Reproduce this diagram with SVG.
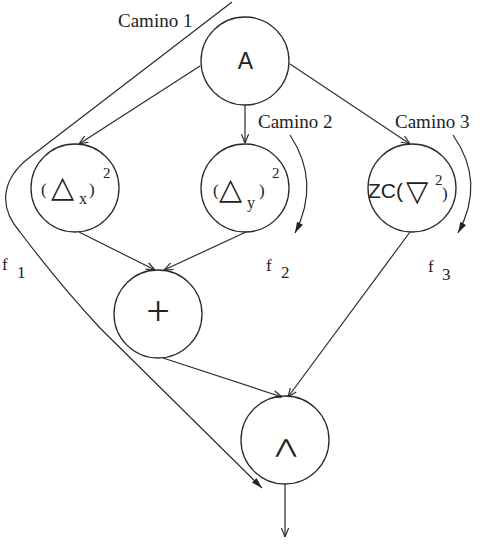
<svg xmlns="http://www.w3.org/2000/svg" width="490" height="547" viewBox="0 0 490 547">
<style>
.n{fill:none;stroke:#2a2a2a;stroke-width:1.3}
.c{fill:none;stroke:#2a2a2a;stroke-width:1.2}
.sr{font-family:"Liberation Serif","Times New Roman",serif;fill:#222}
.ss{font-family:"Liberation Sans",Arial,sans-serif;fill:#222}
.dj{font-family:"DejaVu Sans",sans-serif;fill:#222}
</style>
<defs>
<marker id="v" viewBox="0 0 10 10" refX="10" refY="5" markerWidth="9" markerHeight="9" markerUnits="userSpaceOnUse" orient="auto">
<path d="M0,1 L10,5 L0,9" fill="none" stroke="#2a2a2a" stroke-width="1.3"/>
</marker>
<marker id="f" viewBox="0 0 10 10" refX="10" refY="5" markerWidth="11" markerHeight="11" markerUnits="userSpaceOnUse" orient="auto">
<path d="M0,2 L10,5 L0,8 z" fill="#222"/>
</marker>
</defs>
<rect width="490" height="547" fill="#fff"/>
<g id="connectors">
<path class="c" d="M200,66 L79,144" marker-end="url(#v)"/>
<path class="c" d="M245,105 L245,143" marker-end="url(#v)"/>
<path class="c" d="M290,64 L410,144" marker-end="url(#v)"/>
<path class="c" d="M79,232 L155,270" marker-end="url(#v)"/>
<path class="c" d="M246,232 L164,270" marker-end="url(#v)"/>
<path class="c" d="M163,358 L282,397" marker-end="url(#v)"/>
<path class="c" d="M410,232 L288,397" marker-end="url(#v)"/>
<path class="c" d="M285,484 L285,537" marker-end="url(#v)"/>
<path class="c" d="M232,2 L30,157 C0,180 -1,208 20,232 Q60,285 100,328 L262,488" marker-end="url(#f)"/>
<path class="c" d="M290,135 Q321,182 295,233" marker-end="url(#f)"/>
<path class="c" d="M453,135 Q486,182 458,233" marker-end="url(#f)"/>
</g>
<g id="labels">
<text class="sr" x="118" y="27" font-size="19">Camino 1</text>
<text class="sr" x="258" y="128" font-size="19">Camino 2</text>
<text class="sr" x="395" y="128" font-size="19">Camino 3</text>
<text class="sr" x="2" y="270" font-size="17">f</text>
<text class="sr" x="17" y="278" font-size="17">1</text>
<text class="sr" x="266" y="271" font-size="17">f</text>
<text class="sr" x="281" y="278" font-size="17">2</text>
<text class="sr" x="428" y="272" font-size="17">f</text>
<text class="sr" x="442" y="280" font-size="17">3</text>
</g>
<g id="nodeA">
<circle class="n" cx="245" cy="61" r="44"/>
<text class="ss" x="245.5" y="68.5" font-size="23" text-anchor="middle">A</text>
</g>
<g id="nodeDx">
<circle class="n" cx="75" cy="188" r="44"/>
<text class="sr" x="41" y="195" font-size="17">(</text>
<text class="dj" x="51" y="197" font-size="30">△</text>
<text class="sr" x="79" y="204" font-size="16">x</text>
<text class="sr" x="89" y="195" font-size="17">)</text>
<text class="sr" x="103" y="178" font-size="15">2</text>
</g>
<g id="nodeDy">
<circle class="n" cx="245" cy="188" r="44"/>
<text class="sr" x="213" y="196" font-size="17">(</text>
<text class="dj" x="219" y="199" font-size="30">△</text>
<text class="sr" x="247" y="208" font-size="16">y</text>
<text class="sr" x="259" y="196" font-size="17">)</text>
<text class="sr" x="272" y="178" font-size="15">2</text>
</g>
<g id="nodeZC">
<circle class="n" cx="412" cy="188" r="44"/>
<text class="ss" x="368" y="198" font-size="21">ZC(</text>
<text class="dj" x="406" y="201" font-size="29">▽</text>
<text class="sr" x="435" y="185" font-size="15">2</text>
<text class="sr" x="442" y="199" font-size="17">)</text>
</g>
<g id="nodePlus">
<circle class="n" cx="158" cy="314" r="44"/>
<text class="sr" x="158" y="325" font-size="42" text-anchor="middle">+</text>
</g>
<g id="nodeAnd">
<circle class="n" cx="285" cy="440" r="44"/>
<text class="dj" x="0" y="453" font-size="19" text-anchor="middle" transform="translate(286,0) scale(1.35,1)">⋀</text>
</g>
</svg>
